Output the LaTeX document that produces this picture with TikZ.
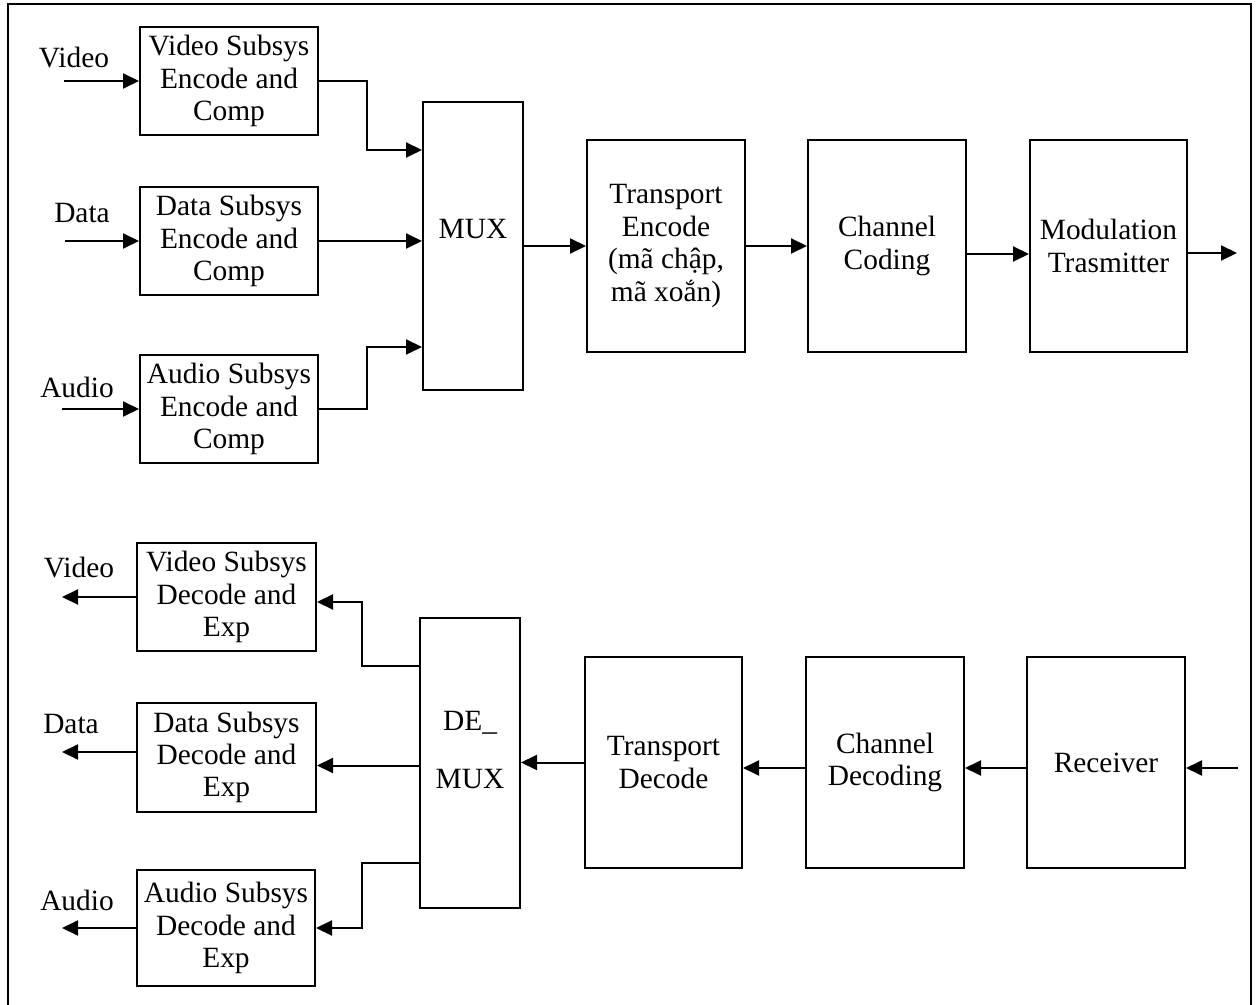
\documentclass[tikz,border=0pt]{standalone}
\usepackage{fontspec}
\setmainfont{Liberation Serif}
\usetikzlibrary{arrows.meta}
\begin{document}
\begin{tikzpicture}[x=0.5pt,y=-0.5pt,
  every node/.style={font=\fontsize{14.7}{16.2}\selectfont},
  blk/.style 2 args={draw, line width=1pt, inner sep=0pt, align=center,
    minimum width=#1*0.5pt, minimum height=#2*0.5pt},
  arr/.style={line width=1pt, -{Triangle[length=8pt,width=7.5pt]}},
  wire/.style={line width=1pt},
  lbl/.style={anchor=base, inner sep=0pt}]
\useasboundingbox (0,0) rectangle (1259,1005);

% open frame (top, left, right)
\draw[wire] (8,1005) -- (8,4) -- (1251,4) -- (1251,1005);

% ---------------- transmitter chain ----------------
\node[blk={178}{108}] (venc) at (229,81)  {Video Subsys\\Encode and\\Comp};
\node[blk={178}{108}] (denc) at (229,241) {Data Subsys\\Encode and\\Comp};
\node[blk={178}{108}] (aenc) at (229,409) {Audio Subsys\\Encode and\\Comp};
\node[blk={100}{288}] (mux)  at (473,246) {};
\node[inner sep=0pt] (muxt) at (473,229) {MUX};
\node[blk={158}{212}] (tenc) at (666,246) {Transport\\Encode\\(mã chập,\\mã xoắn)};
\node[blk={158}{212}] (chc)  at (887,246) {Channel\\Coding};
\node[blk={157}{212}] (mod)  at (1108.5,246) {Modulation\\Trasmitter};

\node[lbl] (vinl) at (74,68)  {Video};
\node[lbl] (dinl) at (82,223) {Data};
\node[lbl] (ainl) at (77,398) {Audio};

\coordinate (vin) at (64,81);
\coordinate (din) at (65,241);
\coordinate (ain) at (62,409);
\coordinate (tout) at (1237,253);

\draw[arr] (vin) -- (venc.west);
\draw[arr] (din) -- (denc.west);
\draw[arr] (ain) -- (aenc.west);

\draw[arr] (venc.east) -- ++(24pt,0) |- ([yshift=48pt]mux.west);
\draw[arr] (denc.east) -- (denc.east -| mux.west);
\draw[arr] (aenc.east) -- ++(24pt,0) |- ([yshift=-50.5pt]mux.west);

\draw[arr] (mux.east) -- (tenc.west);
\draw[arr] (tenc.east) -- (chc.west);
\draw[arr] ([yshift=-4pt]chc.east) -- ([yshift=-4pt]mod.west);
\draw[arr] ([yshift=-3.5pt]mod.east) -- (tout);

% ---------------- receiver chain ----------------
\node[blk={179}{108}] (vdec) at (226.5,597)   {Video Subsys\\Decode and\\Exp};
\node[blk={179}{109}] (ddec) at (226.5,757.5) {Data Subsys\\Decode and\\Exp};
\node[blk={178}{116}] (adec) at (226,928)     {Audio Subsys\\Decode and\\Exp};
\node[blk={100}{290}] (demux) at (470,763) {};
\node[inner sep=0pt, align=center] (demuxt) at (470,750) {DE\_\\[13pt]MUX};
\node[blk={157}{211}] (tdec) at (663.5,762.5) {Transport\\Decode};
\node[blk={158}{211}] (chd)  at (885,762.5)   {Channel\\Decoding};
\node[blk={158}{211}] (recv) at (1106,762.5)  {Receiver};

\node[lbl] (voutl) at (79,577) {Video};
\node[lbl] (doutl) at (71,733) {Data};
\node[lbl] (aoutl) at (77,910) {Audio};

\coordinate (rin)  at (1238,768);
\coordinate (vout) at (62,597);
\coordinate (dout) at (62,752);
\coordinate (aout) at (62,928);

\draw[arr] (rin) -- (rin -| recv.east);
\draw[arr] ([yshift=-2.75pt]recv.west) -- ([yshift=-2.75pt]chd.east);
\draw[arr] ([yshift=-2.75pt]chd.west) -- ([yshift=-2.75pt]tdec.east);
\draw[arr] (tdec.west) -- (tdec.west -| demux.east);

\draw[arr] ([yshift=48.5pt]demux.west) -- ++(-28.5pt,0) |- ([yshift=-2.5pt]vdec.east);
\draw[arr] ([yshift=-1.25pt]demux.west) -- ([yshift=-1.25pt]demux.west -| ddec.east);
\draw[arr] ([yshift=-50pt]demux.west) -- ++(-28.5pt,0) |- (adec.east);

\draw[arr] (vdec.west) -- (vout);
\draw[arr] (dout -| ddec.west) -- (dout);
\draw[arr] (adec.west) -- (aout);
\end{tikzpicture}
\end{document}
